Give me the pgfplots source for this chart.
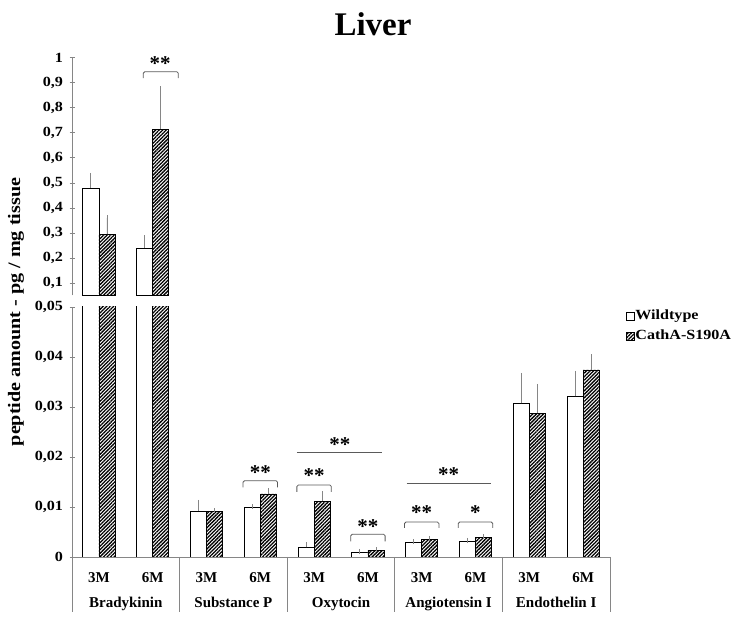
\documentclass[border=0pt]{standalone}
\usepackage{fontspec}
\setmainfont{Liberation Serif}
\newfontfamily\wide[FakeStretch=1.15]{Liberation Serif}
\usepackage{pgfplots}
\usepackage{pgfplotstable}
\pgfplotsset{compat=1.18}
\usetikzlibrary{patterns.meta}
\definecolor{axgray}{RGB}{134,134,134}
\definecolor{brk}{RGB}{90,90,90}

\pgfplotstableread{
x wt wterr ca caerr
0 0.48 0.05 0.295 0.065
1 0.24 0.04 0.715 0.16
}\brady

\pgfplotstableread{
x wt wterr ca caerr
0 0.48 0.05 0.295 0.065
1 0.24 0.04 0.715 0.16
2 0.0092 0.0017 0.0091 0.0001
3 0.0099 0.0001 0.0126 0.0006
4 0.0019 0.0005 0.0111 0.0015
5 0.0010 0.0001 0.0013 0.0001
6 0.0029 0.0001 0.0035 0.0001
7 0.0032 0.0001 0.0039 0.0001
8 0.0307 0.0056 0.0287 0.0054
9 0.0321 0.0046 0.0374 0.0026
}\alldata

\tikzset{
  wtbar/.style={draw=black, line width=0.7pt, fill=white},
  cabar/.style={draw=black, line width=0.7pt, fill=white,
    postaction={pattern={Lines[angle=45,distance=2.5pt,line width=1.3pt]}}},
  brack/.style={draw=brk, line width=0.8pt},
  star/.style={font=\bfseries\fontsize{21}{21}\selectfont, anchor=base, inner sep=0pt},
  sep/.style={axgray, line width=0.7pt},
  grp/.style={anchor=base, font=\bfseries\fontsize{15}{16}\selectfont, yshift=-51pt},
}

\pgfplotsset{
  common/.style={
    scale only axis, width=538pt,
    xmin=-0.5, xmax=9.5,
    ybar, bar width=0.3,
    ytick style={axgray, line width=0.7pt},
    tick align=outside, major tick length=5pt,
    yticklabel style={font=\wide\bfseries\fontsize{14}{16}\selectfont, xshift=-3pt},
    scaled y ticks=false,
    /pgf/number format/use comma,
    /pgf/number format/fixed,
    /pgf/number format/precision=2,
    /pgf/number format/assume math mode=true,
    clip mode=individual,
    legend image code/.code={\draw[#1, line width=0.6pt] (0pt,-4pt) rectangle (8pt,4pt);},
  },
  errs/.style={error bars/.cd, y dir=plus, y explicit,
    error bar style={axgray, line width=0.7pt},
    error mark options={axgray, mark size=2.5pt, line width=0.7pt}},
}

\begin{document}
\begin{tikzpicture}
\useasboundingbox (0,0) rectangle (737pt,618pt);

\node[font=\bfseries\fontsize{33}{36}\selectfont] at (373pt,593.6pt) {Liver};
\node[rotate=90, font=\wide\bfseries\fontsize{17.5}{18}\selectfont] at (16pt,306pt) {peptide amount - pg / mg tissue};

% upper axis
\begin{axis}[common,
  at={(72pt,322.5pt)}, anchor=south west, height=237.8pt,
  ymin=0.05, ymax=1,
  axis x line=none, axis y line=left,
  ytick={0.1,0.2,0.3,0.4,0.5,0.6,0.7,0.8,0.9,1},
  xtick=\empty,
  axis line style={axgray, line width=0.7pt, -},
]
\addplot[wtbar, bar shift=-0.15, errs] table[x=x, y=wt, y error=wterr] {\brady};
\addplot[cabar, bar shift=0.15, errs] table[x=x, y=ca, y error=caerr] {\brady};
\draw[brack, rounded corners=1.5pt] (axis cs:0.825,0.918) -- (axis cs:0.825,0.944) -- (axis cs:1.476,0.944) -- (axis cs:1.476,0.918);
\node[star] at (axis cs:1.14,0.948) {**};
\end{axis}

% lower axis
\begin{axis}[common,
  at={(72pt,61pt)}, anchor=south west, height=250pt,
  ymin=0, ymax=0.05,
  axis x line=bottom, axis y line=left,
  axis line style={axgray, line width=0.7pt, -},
  ytick={0,0.01,0.02,0.03,0.04,0.05},
  xtick={0,1,2,3,4,5,6,7,8,9},
  xticklabels={3M,6M,3M,6M,3M,6M,3M,6M,3M,6M},
  x tick style={draw=none},
  xticklabel style={font=\bfseries\fontsize{15}{16}\selectfont, anchor=base, yshift=-23.4pt},
  legend style={at={(1.029,0.922)}, anchor=west, draw=none, fill=none, inner sep=0pt,
    font=\wide\bfseries\fontsize{14}{16}\selectfont, row sep=5pt,
    nodes={inner sep=1pt, text height=10pt, text depth=3pt}},
  legend cell align=left,
]
\addplot[wtbar, bar shift=-0.15, errs] table[x=x, y=wt, y error=wterr] {\alldata};
\addlegendentry{Wildtype}
\addplot[cabar, bar shift=0.15, errs] table[x=x, y=ca, y error=caerr] {\alldata};
\addlegendentry{CathA-S190A}

% separators
\draw[sep] (axis cs:-0.5,0) -- ++(0pt,-55pt);
\draw[sep] (axis cs:1.5,0) -- ++(0pt,-55pt);
\draw[sep] (axis cs:3.5,0) -- ++(0pt,-55pt);
\draw[sep] (axis cs:5.5,0) -- ++(0pt,-55pt);
\draw[sep] (axis cs:7.5,0) -- ++(0pt,-55pt);
\draw[sep] (axis cs:9.5,0) -- ++(0pt,-55pt);
\node[grp] at (axis cs:0.5,0) {Bradykinin};
\node[grp] at (axis cs:2.5,0) {Substance P};
\node[grp] at (axis cs:4.5,0) {Oxytocin};
\node[grp] at (axis cs:6.5,0) {Angiotensin I};
\node[grp] at (axis cs:8.5,0) {Endothelin I};

% significance brackets
\draw[brack, rounded corners=1.5pt] (axis cs:2.68,0.0139) -- (axis cs:2.68,0.01526) -- (axis cs:3.32,0.01526) -- (axis cs:3.32,0.0139);
\node[star] at (axis cs:3,0.0154) {**};
\draw[brack, rounded corners=1.5pt] (axis cs:3.68,0.0130) -- (axis cs:3.68,0.0144) -- (axis cs:4.32,0.0144) -- (axis cs:4.32,0.0130);
\node[star] at (axis cs:4,0.0148) {**};
\draw[brack] (axis cs:3.68,0.0209) -- (axis cs:5.27,0.0209);
\node[star] at (axis cs:4.48,0.0211) {**};
\draw[brack, rounded corners=1.5pt] (axis cs:4.68,0.0031) -- (axis cs:4.68,0.00454) -- (axis cs:5.32,0.00454) -- (axis cs:5.32,0.0031);
\node[star] at (axis cs:5,0.00474) {**};
\draw[brack, rounded corners=1.5pt] (axis cs:5.68,0.0058) -- (axis cs:5.68,0.0070) -- (axis cs:6.32,0.0070) -- (axis cs:6.32,0.0058);
\node[star] at (axis cs:6,0.0074) {**};
\draw[brack, rounded corners=1.5pt] (axis cs:6.68,0.0058) -- (axis cs:6.68,0.0070) -- (axis cs:7.32,0.0070) -- (axis cs:7.32,0.0058);
\node[star] at (axis cs:7,0.0074) {*};
\draw[brack] (axis cs:5.72,0.0148) -- (axis cs:7.28,0.0148);
\node[star] at (axis cs:6.5,0.0150) {**};
\end{axis}
\end{tikzpicture}
\end{document}
